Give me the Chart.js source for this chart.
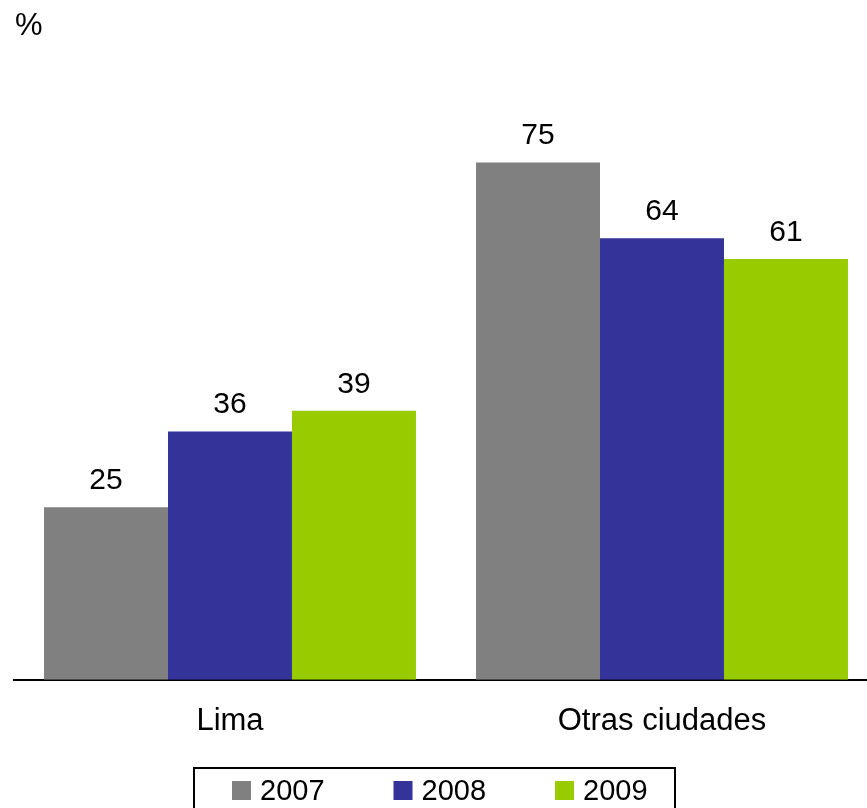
<!DOCTYPE html>
<html><head><meta charset="utf-8">
<script src="https://cdn.jsdelivr.net/npm/chart.js@4"></script>
<style>html,body{margin:0;padding:0;overflow:hidden;background:#fff;width:867px;height:808px}
#wrap{position:absolute;left:0;top:0;width:878px;height:808px}</style>
</head><body><div id="wrap"><canvas id="c" width="878" height="808"></canvas></div>
<script>
const categories = ['Lima', 'Otras ciudades'];
const seriesLabels = ['2007', '2008', '2009'];
const values2007 = [25, 75];
const values2008 = [36, 64];
const values2009 = [39, 61];
const seriesColors = ['#808080', '#333399', '#99CC00'];
const unitLabel = '%';
const FONT = '"Liberation Sans", Arial, Helvetica, sans-serif';

const extras = {
  id: 'extras',
  afterDatasetsDraw(chart) {
    const ctx = chart.ctx;
    ctx.save();
    ctx.font = '30px ' + FONT;
    ctx.fillStyle = '#000';
    ctx.textAlign = 'center';
    ctx.textBaseline = 'alphabetic';
    chart.data.datasets.forEach((ds, i) => {
      const meta = chart.getDatasetMeta(i);
      meta.data.forEach((bar, j) => {
        ctx.fillText(String(ds.data[j]), bar.x, bar.y - 18);
      });
    });
    ctx.restore();
  },
  afterDraw(chart) {
    const ctx = chart.ctx;
    ctx.save();
    ctx.font = '31px ' + FONT;
    ctx.fillStyle = '#000';
    ctx.textAlign = 'left';
    ctx.textBaseline = 'alphabetic';
    ctx.fillText(unitLabel, 15, 35);
    ctx.font = '29px ' + FONT;
    ctx.strokeStyle = '#000';
    ctx.lineWidth = 2;
    ctx.strokeRect(194, 768, 481, 60);
    let x = 232;
    chart.data.datasets.forEach((ds) => {
      ctx.fillStyle = ds.backgroundColor;
      ctx.fillRect(x, 781, 19, 19);
      ctx.fillStyle = '#000';
      ctx.fillText(ds.label, x + 28, 800);
      x += 161.5;
    });
    ctx.restore();
  }
};

new Chart(document.getElementById('c'), {
  type: 'bar',
  data: {
    labels: categories,
    datasets: [
      { label: seriesLabels[0], data: values2007, backgroundColor: seriesColors[0] },
      { label: seriesLabels[1], data: values2008, backgroundColor: seriesColors[1] },
      { label: seriesLabels[2], data: values2009, backgroundColor: seriesColors[2] }
    ]
  },
  options: {
    responsive: false,
    animation: false,
    layout: { padding: { left: 14, right: 0, top: 59, bottom: 45 } },
    plugins: { legend: { display: false }, tooltip: { enabled: false } },
    datasets: { bar: { categoryPercentage: 0.861, barPercentage: 1, borderWidth: 0 } },
    scales: {
      x: {
        grid: { display: false, drawTicks: false },
        border: { display: true, color: '#000', width: 2 },
        ticks: { color: '#000', font: { family: FONT, size: 31 }, padding: 23 }
      },
      y: { display: false, min: 0, max: 90 }
    }
  },
  plugins: [extras]
});
</script></body></html>
